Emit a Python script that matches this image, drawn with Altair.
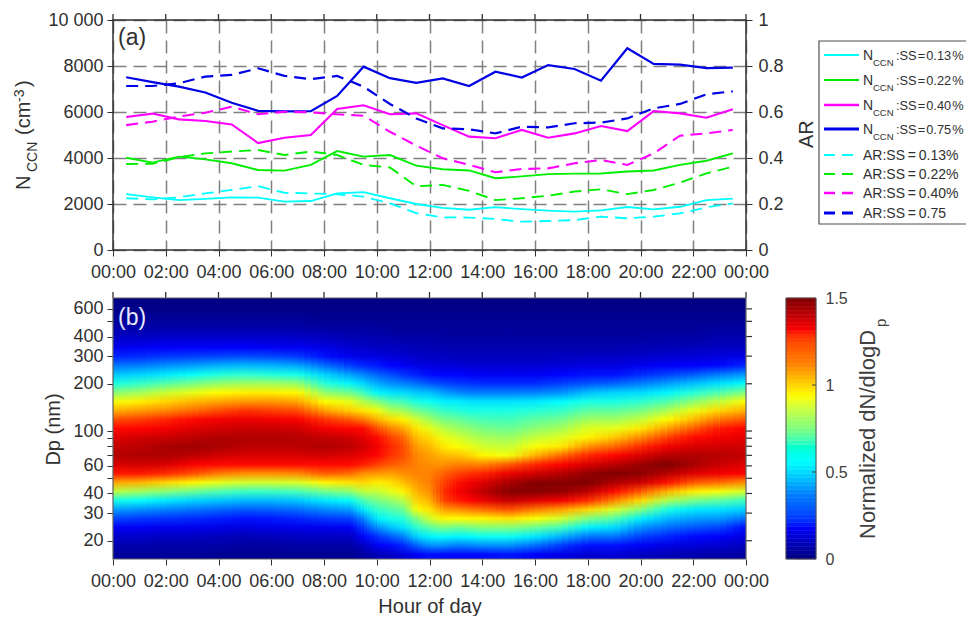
import altair as alt
import pandas as pd

HOURS = [h + 0.5 for h in range(24)]
N_013 = [2430,2290,2170,2220,2290,2280,2100,2130,2460,2520,2250,2000,1830,1750,1860,1780,1710,1670,1720,1870,1770,1880,2170,2230]
N_022 = [4010,3800,4060,3940,3770,3480,3450,3700,4300,4060,4130,3670,3510,3460,3120,3200,3300,3320,3330,3410,3460,3700,3880,4200]
N_040 = [5780,5930,5680,5610,5460,4650,4880,5000,6130,6290,5900,5940,5430,4930,4860,5220,4880,5070,5390,5170,6040,5940,5750,6120]
N_075 = [7510,7300,7100,6850,6400,6050,6030,6040,6700,7970,7470,7270,7460,7130,7750,7500,8040,7870,7360,8770,8090,8060,7910,7930]
AR_013 = [.225,.22,.229,.246,.261,.278,.249,.246,.242,.232,.203,.16,.142,.141,.135,.123,.126,.13,.145,.138,.145,.159,.186,.203]
AR_022 = [.374,.375,.403,.42,.428,.435,.413,.428,.413,.37,.359,.277,.283,.257,.217,.225,.236,.254,.264,.243,.261,.293,.333,.362]
AR_040 = [.543,.558,.58,.597,.623,.59,.601,.599,.59,.584,.514,.454,.399,.37,.338,.352,.355,.377,.391,.37,.42,.497,.507,.522]
AR_075 = [.713,.713,.725,.754,.761,.79,.757,.743,.757,.71,.635,.572,.529,.525,.507,.536,.533,.551,.554,.572,.616,.635,.677,.69]

SS_NAMES = ["0.13", "0.22", "0.40", "0.75"]
LINE_COLORS = ["#00ffff", "#00ee00", "#ff00ff", "#0000e6"]
LINE_WIDTHS = [1.8, 2.2, 2.6, 3.2]

HOUR_TICKS = list(range(0, 25, 2))
N_TICKS = [0, 2000, 4000, 6000, 8000, 10000]
AR_TICKS = [0, .2, .4, .6, .8, 1]
DP_TICKS = [20, 30, 40, 50, 60, 70, 80, 90, 100, 200, 300, 400, 500, 600]
CB_TICKS = [0, .5, 1, 1.5]

# Heat map: diameter range and one list per time column (top row first)
DP_RANGE = [15.3, 704]
COLUMN_HOURS = [0,1,2,3,4,5,6,7,8,9,9.5,10,10.5,11,11.5,12,12.5,13,13.5,14,15,16,17,18,19,20,21,22,23,24]
C00 = [.01,.02,.04,.07,.11,.16,.24,.36,.48,.6,.76,.92,1.05,1.2,1.3,1.36,1.4,1.42,1.37,1.28,1.07,.84,.6,.42,.29,.17,.11,.07,.04]
C01 = [.01,.02,.04,.07,.11,.17,.25,.37,.5,.64,.8,.96,1.08,1.22,1.31,1.38,1.41,1.43,1.38,1.28,1.05,.8,.57,.4,.27,.17,.11,.07,.04]
C02 = [.01,.02,.04,.07,.12,.18,.27,.4,.53,.69,.86,1.0,1.11,1.26,1.33,1.39,1.44,1.43,1.37,1.25,1.0,.76,.53,.38,.26,.16,.1,.06,.04]
C03 = [.01,.02,.04,.07,.12,.18,.28,.42,.57,.74,.9,1.04,1.15,1.3,1.36,1.41,1.45,1.41,1.32,1.2,.95,.72,.5,.36,.25,.16,.1,.06,.04]
C04 = [.01,.02,.04,.07,.12,.18,.29,.45,.61,.78,.94,1.07,1.2,1.33,1.38,1.43,1.44,1.38,1.3,1.13,.9,.68,.48,.34,.23,.15,.09,.06,.03]
C05 = [.01,.02,.04,.07,.12,.18,.3,.46,.63,.8,.96,1.09,1.24,1.34,1.39,1.43,1.41,1.37,1.3,1.1,.87,.65,.46,.32,.21,.14,.08,.05,.03]
C06 = [.01,.02,.04,.07,.12,.17,.29,.45,.61,.8,.96,1.09,1.22,1.33,1.39,1.43,1.41,1.37,1.3,1.1,.87,.65,.46,.33,.22,.15,.09,.05,.03]
C07 = [.01,.02,.04,.07,.11,.17,.27,.43,.59,.78,.94,1.07,1.2,1.32,1.38,1.42,1.41,1.37,1.3,1.11,.88,.67,.48,.35,.24,.16,.1,.06,.03]
C08 = [.01,.02,.03,.06,.1,.15,.21,.35,.5,.62,.78,.94,1.08,1.24,1.33,1.4,1.43,1.38,1.3,1.18,.95,.73,.53,.39,.27,.16,.1,.06,.03]
C09 = [.01,.02,.03,.05,.08,.12,.16,.27,.42,.55,.72,.9,1.0,1.18,1.31,1.38,1.41,1.36,1.3,1.15,.98,.77,.57,.42,.28,.17,.1,.06,.03]
C095 = [.01,.02,.03,.05,.08,.11,.15,.24,.38,.5,.65,.82,.97,1.13,1.3,1.35,1.38,1.34,1.27,1.1,1.0,.85,.68,.54,.39,.28,.19,.1,.05]
C10 = [.01,.02,.03,.05,.07,.1,.14,.22,.33,.44,.55,.76,.92,1.05,1.2,1.3,1.33,1.31,1.22,1.09,.96,.85,.74,.64,.54,.4,.26,.17,.08]
C105 = [.01,.02,.03,.04,.07,.1,.13,.19,.3,.4,.52,.68,.83,.99,1.12,1.22,1.26,1.24,1.18,1.08,.98,.9,.78,.68,.59,.47,.32,.2,.1]
C11 = [.01,.02,.03,.04,.06,.09,.12,.17,.26,.38,.51,.66,.8,.95,1.07,1.16,1.2,1.2,1.16,1.1,1.03,.95,.83,.72,.62,.52,.38,.24,.13]
C115 = [.01,.02,.03,.04,.06,.08,.11,.15,.23,.35,.48,.6,.73,.87,.97,1.03,1.08,1.11,1.12,1.12,1.09,1.05,1.0,.93,.75,.63,.5,.33,.17]
C12 = [.01,.02,.03,.04,.06,.08,.1,.14,.2,.31,.47,.58,.69,.8,.9,.99,1.04,1.08,1.1,1.12,1.13,1.1,1.05,.98,.87,.7,.55,.4,.21]
C125 = [.01,.02,.03,.04,.05,.07,.1,.13,.19,.29,.42,.54,.64,.74,.84,.91,.97,1.04,1.1,1.17,1.21,1.24,1.21,1.08,.95,.75,.57,.4,.2]
C13 = [.01,.02,.03,.04,.05,.07,.09,.13,.19,.27,.39,.54,.62,.72,.8,.88,.94,1.03,1.12,1.21,1.28,1.32,1.27,1.1,.94,.72,.55,.37,.2]
C135 = [.01,.02,.03,.04,.05,.07,.09,.12,.18,.26,.37,.52,.6,.69,.77,.84,.91,1.0,1.12,1.24,1.33,1.36,1.31,1.13,.95,.74,.56,.38,.2]
C14 = [.01,.02,.03,.04,.05,.07,.09,.12,.17,.25,.37,.52,.6,.67,.74,.81,.87,.95,1.12,1.26,1.36,1.41,1.34,1.15,.95,.76,.58,.4,.2]
C15 = [.01,.02,.03,.04,.05,.07,.09,.12,.17,.25,.37,.52,.6,.66,.72,.79,.85,.92,1.18,1.34,1.44,1.49,1.4,1.2,.98,.76,.58,.4,.22]
C16 = [.01,.02,.03,.04,.05,.07,.09,.12,.17,.25,.38,.53,.62,.7,.77,.85,.93,1.05,1.26,1.38,1.49,1.49,1.36,1.13,.93,.72,.53,.35,.18]
C17 = [.01,.02,.03,.04,.05,.07,.1,.13,.19,.28,.4,.56,.64,.73,.81,.89,.97,1.16,1.31,1.42,1.49,1.47,1.33,1.08,.87,.66,.45,.27,.15]
C18 = [.01,.02,.03,.04,.05,.07,.1,.14,.21,.31,.47,.6,.7,.8,.89,.95,1.1,1.26,1.37,1.47,1.5,1.41,1.25,1.0,.75,.54,.36,.21,.12]
C19 = [.01,.02,.03,.04,.05,.07,.1,.14,.21,.33,.5,.6,.7,.8,.9,1.02,1.16,1.31,1.41,1.5,1.43,1.3,1.12,.88,.69,.51,.36,.21,.13]
C20 = [.01,.02,.03,.04,.05,.08,.11,.16,.25,.37,.51,.63,.74,.85,.97,1.11,1.25,1.37,1.46,1.48,1.39,1.18,.99,.76,.54,.4,.28,.17,.1]
C21 = [.01,.02,.03,.04,.06,.08,.12,.18,.28,.42,.55,.68,.81,.94,1.08,1.22,1.33,1.42,1.5,1.42,1.29,1.05,.82,.6,.46,.35,.24,.15,.08]
C22 = [.01,.02,.03,.04,.06,.09,.13,.18,.32,.47,.62,.77,.91,1.04,1.18,1.3,1.37,1.43,1.44,1.36,1.18,.96,.74,.53,.42,.31,.2,.13,.07]
C23 = [.01,.02,.03,.05,.07,.1,.14,.2,.37,.52,.68,.85,1.0,1.14,1.28,1.33,1.38,1.42,1.39,1.33,1.15,.92,.7,.52,.41,.29,.18,.12,.06]
C24 = [.01,.02,.03,.05,.07,.1,.15,.24,.41,.57,.75,.94,1.05,1.19,1.31,1.35,1.38,1.4,1.36,1.31,1.1,.87,.65,.49,.35,.2,.14,.09,.05]
COLUMNS = [C00,C01,C02,C03,C04,C05,C06,C07,C08,C09,C095,C10,C105,C11,C115,C12,C125,C13,C135,C14,C15,C16,C17,C18,C19,C20,C21,C22,C23,C24]

JET = ["#00007f","#0000ff","#007fff","#00ffff","#7fff7f","#ffff00","#ff7f00","#ff0000","#7f0000"]
JET_DOMAIN = [0,.1875,.375,.5625,.75,.9375,1.125,1.3125,1.5]
CB_LEVELS = 64
BLEND_STRIPS = 4

DARK = "#303030"
GRID = "#808080"
W, HA, HB, CW = 633, 230, 261, 22


def jet_hex(v):
    v = min(max(v, 0), 1.5)
    i = min(int(v / .1875), 7)
    t = (v - JET_DOMAIN[i]) / .1875
    a, b = JET[i], JET[i + 1]
    ch = [round(int(a[k:k + 2], 16) * (1 - t) + int(b[k:k + 2], 16) * t) for k in (1, 3, 5)]
    return "#%02x%02x%02x" % tuple(ch)


def note(s, x, y, size, angle=0, color=DARK):
    return alt.Chart(pd.DataFrame({"t": [s]})).mark_text(
        align="left", baseline="alphabetic", fontSize=size, angle=angle,
        color=color, font="Liberation Sans"
    ).encode(x=alt.value(x), y=alt.value(y), text="t:N")


def frame(w, h, color, sw):
    return alt.Chart(pd.DataFrame({"a": [0]})).mark_rect(fill=None, stroke=color, strokeWidth=sw).encode(
        x=alt.value(0), x2=alt.value(w), y=alt.value(0), y2=alt.value(h))


hour_scale = alt.Scale(domain=[0, 24], nice=False)


def top_ticks(color):
    return alt.Chart(pd.DataFrame({"h": HOUR_TICKS})).mark_rule(color=color, strokeWidth=1.3).encode(
        x=alt.X("h:Q", scale=hour_scale), y=alt.value(-6), y2=alt.value(0))


LABEL_EXPR = "(datum.value%24<10?'0':'')+(datum.value%24)+':00'"

# ---- panel (a)
rows_n, rows_ar = [], []
for i, name in enumerate(SS_NAMES):
    for h, n, r in zip(HOURS, [N_013, N_022, N_040, N_075][i], [AR_013, AR_022, AR_040, AR_075][i]):
        rows_n.append({"h": h, "v": n, "s": name})
        rows_ar.append({"h": h, "v": r, "s": name})
color = alt.Color("s:N", scale=alt.Scale(domain=SS_NAMES, range=LINE_COLORS), legend=None)
swidth = alt.StrokeWidth("s:N", scale=alt.Scale(domain=SS_NAMES, range=LINE_WIDTHS), legend=None)

lines_n = alt.Chart(pd.DataFrame(rows_n)).mark_line().encode(
    x=alt.X("h:Q", scale=hour_scale, axis=alt.Axis(
        values=HOUR_TICKS, labelExpr=LABEL_EXPR, title=None, grid=True, gridDash=[13, 7],
        gridColor=GRID, gridWidth=1.5, tickSize=6, labelPadding=7, labelFlush=False,
        labelOverlap=False, tickColor=DARK, domain=False)),
    y=alt.Y("v:Q", scale=alt.Scale(domain=[0, 10000], nice=False), axis=alt.Axis(
        values=N_TICKS, title=None, grid=True, gridDash=[13, 7], gridColor=GRID, gridWidth=1.5,
        tickSize=6, labelPadding=4, domain=False, tickColor=DARK,
        labelExpr="datum.value==10000?'10 000':datum.value")),
    color=color, strokeWidth=swidth, detail="s:N")
lines_ar = alt.Chart(pd.DataFrame(rows_ar)).mark_line(strokeDash=[12, 7]).encode(
    x=alt.X("h:Q", scale=hour_scale),
    y=alt.Y("v:Q", scale=alt.Scale(domain=[0, 1], nice=False), axis=alt.Axis(
        values=AR_TICKS, orient="right", title=None, format="~g", grid=False, tickSize=6,
        labelPadding=6, domain=False, tickColor=DARK)),
    color=color, strokeWidth=swidth, detail="s:N")

panel_a = alt.layer(
    lines_n, lines_ar, top_ticks(DARK), frame(W, HA, DARK, 1.5),
    note("(a)", 5, 25, 23),
    note("N", -83, 170, 20, 270),
    note("CCN", -76, 152, 14, 270),
    note("(cm", -83, 115, 20, 270),
    note("-3", -89, 82, 14, 270),
    note(")", -83, 67, 20, 270),
    note("AR", 700, 128, 20, 270),
).resolve_scale(y="independent", color="shared", strokeWidth="shared").properties(width=W, height=HA)

# ---- legend panel
leg_rows_y = [35, 60, 85, 109, 135, 154, 173, 193]
leg_layers = []
for i, name in enumerate(SS_NAMES):
    y_n, y_a = leg_rows_y[i], leg_rows_y[i + 4]
    base = pd.DataFrame({"a": [0]})
    leg_layers.append(alt.Chart(base).mark_rule(color=LINE_COLORS[i], strokeWidth=LINE_WIDTHS[i]).encode(
        x=alt.value(30), x2=alt.value(65), y=alt.value(y_n)))
    leg_layers.append(alt.Chart(base).mark_rule(color=LINE_COLORS[i], strokeWidth=LINE_WIDTHS[i], strokeDash=[11, 7]).encode(
        x=alt.value(30), x2=alt.value(60), y=alt.value(y_a)))
    leg_layers.append(note("N", 69, y_n + 5, 14))
    leg_layers.append(note("CCN", 79, y_n + 11, 9.5))
    leg_layers.append(note(f":SS\u200a=\u200a{name}\u200a%", 102, y_n + 5, 12.8))
    suffix = "%" if name != "0.75" else ""
    leg_layers.append(note(f"AR:SS\u2009=\u2009{name}{suffix}", 69, y_a + 5, 14))
box = pd.DataFrame({"a": [0]})
leg_box = [
    alt.Chart(box).mark_rect(fill=None, stroke="#505050", strokeWidth=1.2).encode(
        x=alt.value(25), x2=alt.value(190), y=alt.value(21), y2=alt.value(204))
]
panel_leg = alt.layer(*leg_box, *leg_layers).properties(width=CW, height=HA)

# ---- panel (b): each time column is a vertical gradient of its read values,
# cross-faded into the next column by the browser's alpha blending
dp_scale = alt.Scale(type="log", domain=DP_RANGE, nice=False)
n_rows = len(C00)


def col_gradient(col):
    return alt.LinearGradient(gradient="linear", x1=0, x2=0, y1=0, y2=1, stops=[
        alt.GradientStop(color=jet_hex(v), offset=(r + .5) / n_rows) for r, v in enumerate(col)])


def col_rect(col, h1, h2, opacity=1.0, axes=False):
    df = pd.DataFrame({"h": [h1], "h2": [h2], "d": [DP_RANGE[0]], "d2": [DP_RANGE[1]]})
    x = alt.X("h:Q", scale=hour_scale)
    y = alt.Y("d:Q", scale=dp_scale)
    if axes:
        x = alt.X("h:Q", scale=hour_scale, axis=alt.Axis(
            values=HOUR_TICKS, labelExpr=LABEL_EXPR, title="Hour of day", grid=False, tickSize=6,
            labelPadding=7, labelFlush=False, labelOverlap=False, tickColor=DARK, domain=False,
            titleX=W / 2, titleY=53, titleBaseline="alphabetic", titleAlign="center"))
        y = alt.Y("d:Q", scale=dp_scale, axis=alt.Axis(
            values=DP_TICKS, title="Dp (nm)", grid=False, tickSize=6, labelPadding=4, domain=False,
            labelOverlap=False, tickColor=DARK, titleX=-54, titleY=131, titleAngle=270,
            titleBaseline="alphabetic", titleAlign="center",
            labelExpr="indexof([50,70,80,90,500],datum.value)>=0?'':datum.value"))
    return alt.Chart(df).mark_rect(fill=col_gradient(col), opacity=opacity).encode(x=x, x2="h2:Q", y=y, y2="d2:Q")


heat_layers = []
for c in range(len(COLUMNS) - 1):
    t0, t1 = COLUMN_HOURS[c], COLUMN_HOURS[c + 1]
    # the opaque base runs on a little under the next column so no gap shows between them
    heat_layers.append(col_rect(COLUMNS[c], t0, min(t1 + .15, 24), axes=(c == 0)))
    for k in range(BLEND_STRIPS):
        a = t0 + (t1 - t0) * k / BLEND_STRIPS
        b = t0 + (t1 - t0) * (k + 1) / BLEND_STRIPS
        heat_layers.append(col_rect(COLUMNS[c + 1], a, b, opacity=(k + .5) / BLEND_STRIPS))

right_ticks = alt.Chart(pd.DataFrame({"d": DP_TICKS})).mark_rule(color=DARK, strokeWidth=1.2).encode(
    x=alt.value(W), x2=alt.value(W + 6), y=alt.Y("d:Q", scale=dp_scale))
panel_b = alt.layer(
    *heat_layers, right_ticks, top_ticks(DARK), frame(W, HB, "#606060", 1.2),
    note("(b)", 5, 27, 23, color="#e8e8ff"),
).properties(width=W, height=HB)

# ---- colour bar
jet = alt.Scale(domain=JET_DOMAIN, range=JET)
step = 1.5 / CB_LEVELS
cb_df = pd.DataFrame({"a": [i * step for i in range(CB_LEVELS)], "b": [(i + 1) * step for i in range(CB_LEVELS)]})
cb_df["v"] = cb_df["a"] + step / 2
cb_y = alt.Scale(domain=[0, 1.5], nice=False)
cb_rect = alt.Chart(cb_df).mark_rect(strokeWidth=0.5).encode(
    x=alt.value(-8), x2=alt.value(CW),
    y=alt.Y("a:Q", scale=cb_y, axis=alt.Axis(
        values=CB_TICKS, orient="right", title=None, format="~g", tickSize=0, labelPadding=9,
        labelFontSize=16, domain=False, labelColor="#404040")),
    y2="b:Q",
    color=alt.Color("v:Q", scale=jet, legend=None),
    stroke=alt.Stroke("v:Q", scale=jet, legend=None))
cb_ticks = alt.Chart(pd.DataFrame({"a": [.5, 1]})).mark_rule(color="#404040").encode(
    x=alt.value(CW - 4), x2=alt.value(CW), y=alt.Y("a:Q", scale=cb_y))
cb_frame = alt.Chart(pd.DataFrame({"a": [0]})).mark_rect(fill=None, stroke="#505050", strokeWidth=1).encode(
    x=alt.value(-8), x2=alt.value(CW), y=alt.value(0), y2=alt.value(HB))
panel_cb = alt.layer(
    cb_rect, cb_ticks, cb_frame,
    note("Normalized dN/dlogD", 81, 241, 22, 270, "#404040"),
    note("p", 92, 29, 15, 270, "#404040"),
).properties(width=CW, height=HB)

chart = alt.concat(panel_a, panel_leg, panel_b, panel_cb, columns=2, spacing=48, bounds="flush").properties(
    autosize=alt.AutoSizeParams(type="none"),
    padding={"left": 105, "top": 12, "right": 853, "bottom": 596}
).configure_view(stroke=None).configure_axis(
    labelFont="Liberation Sans", titleFont="Liberation Sans", labelFontSize=18, titleFontSize=20,
    labelColor=DARK, titleColor=DARK, titleFontWeight="normal"
)

chart.save("out.html", embed_options={"renderer": "svg", "actions": False})
